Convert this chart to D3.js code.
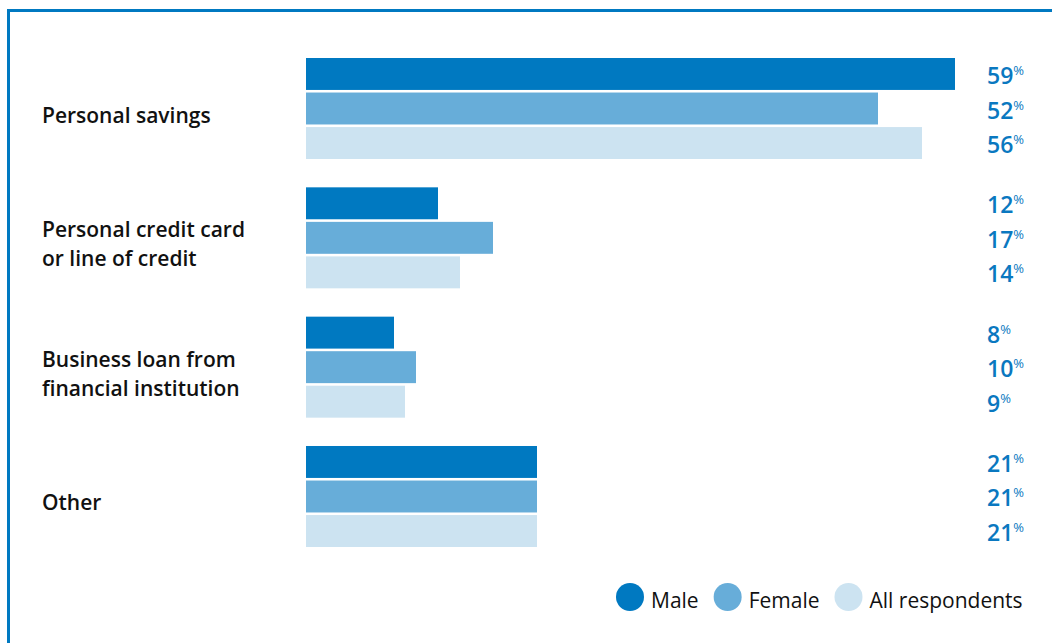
<!DOCTYPE html>
<html>
<head>
<meta charset="utf-8">
<script src="https://cdn.jsdelivr.net/npm/d3@7"></script>
<style>
  html, body { margin: 0; padding: 0; background: #fff; }
  svg { display: block; font-family: "Open Sans", "Noto Sans", sans-serif; }
</style>
</head>
<body>
<svg id="chart" width="1052" height="643"></svg>
<script>
// Funding sources by respondent group (percent)
const categories = [
  ["Personal savings"],
  ["Personal credit card", "or line of credit"],
  ["Business loan from", "financial institution"],
  ["Other"]
];
const seriesNames = ["Male", "Female", "All respondents"];
const maleValues   = [59, 12, 8, 21];
const femaleValues = [52, 17, 10, 21];
const allValues    = [56, 14, 9, 21];
const seriesColors = ["#0079c1", "#67add9", "#cce3f1"];

const svg = d3.select("#chart");
const W = 1052, H = 643;
const frameColor = "#0079c1";

// Frame: top and left rules
svg.append("line").attr("x1", 7).attr("x2", W).attr("y1", 10.5).attr("y2", 10.5)
  .attr("stroke", frameColor).attr("stroke-width", 3);
svg.append("line").attr("x1", 8.5).attr("x2", 8.5).attr("y1", 9).attr("y2", H)
  .attr("stroke", frameColor).attr("stroke-width", 3);

const catKeys = categories.map(c => c.join(" "));
const seriesValues = [maleValues, femaleValues, allValues];

const y0 = d3.scaleBand().domain(catKeys).range([58, 547]).paddingInner(0.219).paddingOuter(0);
const y1 = d3.scaleBand().domain(seriesNames).range([0, y0.bandwidth()]).paddingInner(0.075).paddingOuter(0);
const x = d3.scaleLinear().domain([0, 60]).range([306, 966]);

const groups = svg.selectAll("g.cat").data(categories).join("g")
  .attr("class", "cat")
  .attr("transform", (d, i) => `translate(0,${y0(catKeys[i])})`);

groups.each(function (cat, ci) {
  const g = d3.select(this);
  const rows = seriesNames.map((s, si) => ({ s, si, v: seriesValues[si][ci] }));

  // Bars
  g.selectAll("rect").data(rows).join("rect")
    .attr("x", x(0))
    .attr("y", d => y1(d.s))
    .attr("width", d => x(d.v) - x(0))
    .attr("height", y1.bandwidth())
    .attr("fill", d => seriesColors[d.si]);

  // Value labels with superscript percent sign
  const t = g.selectAll("text.val").data(rows).join("text")
    .attr("class", "val")
    .attr("x", 987)
    .attr("y", d => y1(d.s) + y1.bandwidth() / 2 + 10)
    .attr("fill", "#0a78c0")
    .attr("font-size", 23)
    .attr("font-weight", 600);
  t.append("tspan").text(d => d.v);
  t.append("tspan").text("%").attr("font-size", 13).attr("font-weight", 500).attr("dy", -9);

  // Category label
  const lineH = 29;
  const blockCenter = y0.bandwidth() / 2 + 14;
  const lbl = g.append("text")
    .attr("x", 42)
    .attr("fill", "#111")
    .attr("font-size", 21)
    .attr("font-weight", 600);
  cat.forEach((line, li) => {
    lbl.append("tspan")
      .attr("x", 42)
      .attr("y", blockCenter - (cat.length - 1) * lineH / 2 + li * lineH)
      .text(line);
  });
});

// Legend
const legend = svg.append("g").attr("class", "legend");
let lx = 616;
const ly = 597, r = 14;
seriesNames.forEach((name, i) => {
  legend.append("circle").attr("cx", lx + r).attr("cy", ly).attr("r", r).attr("fill", seriesColors[i]);
  const txt = legend.append("text")
    .attr("x", lx + 2 * r + 7)
    .attr("y", ly + 11)
    .attr("fill", "#111")
    .attr("font-size", 21)
    .text(name);
  lx = lx + 2 * r + 7 + txt.node().getComputedTextLength() + 15;
});
</script>
</body>
</html>
